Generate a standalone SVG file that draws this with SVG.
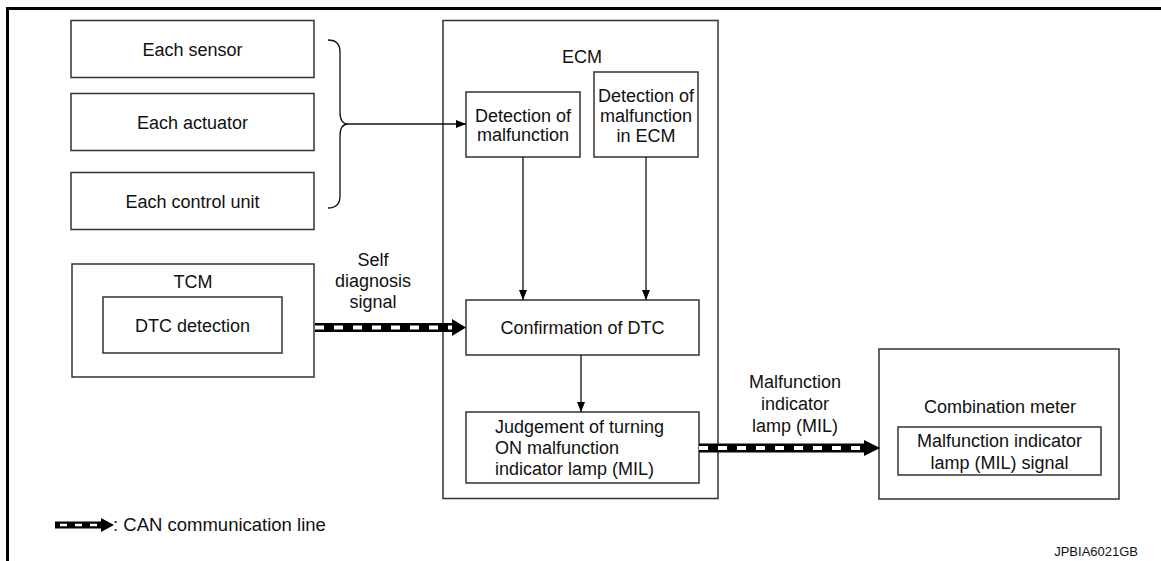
<svg xmlns="http://www.w3.org/2000/svg" width="1161" height="561" viewBox="0 0 1161 561">
<style>
text{font-family:"Liberation Sans",Arial,sans-serif;font-size:18px;fill:#111}
.c{text-anchor:middle}
.box{fill:#fff;stroke:#333;stroke-width:1.5}
.ln{stroke:#111;stroke-width:1.3;fill:none}
.canb{stroke:#000;stroke-width:9}
.canw{stroke:#fff;stroke-width:4;stroke-dasharray:9 10}
</style>
<defs>
<marker id="ah" viewBox="0 0 10 8" refX="10" refY="4" markerWidth="10" markerHeight="8" markerUnits="userSpaceOnUse" orient="auto">
<path d="M0,0 L10,4 L0,8 Z" fill="#000"/>
</marker>
</defs>
<rect width="1161" height="561" fill="#fff"/>
<g id="frame">
<line x1="6" y1="8.5" x2="1161" y2="8.5" stroke="#000" stroke-width="3"/>
<line x1="7.5" y1="7" x2="7.5" y2="561" stroke="#000" stroke-width="3"/>
</g>
<g id="sensor"><rect class="box" x="71" y="20.5" width="243" height="57"/><text class="c" x="192.5" y="56">Each sensor</text></g>
<g id="actuator"><rect class="box" x="71" y="93.5" width="243" height="57"/><text class="c" x="192.5" y="128.5">Each actuator</text></g>
<g id="control"><rect class="box" x="71" y="172.5" width="243" height="57"/><text class="c" x="192.5" y="208">Each control unit</text></g>
<g id="ecm"><rect class="box" x="443" y="20.5" width="275" height="478"/><text class="c" x="582" y="63">ECM</text></g>
<g id="detect"><rect class="box" x="466" y="92" width="114" height="65"/><text class="c" x="523" y="121.5">Detection of</text><text class="c" x="523" y="141">malfunction</text></g>
<g id="detect-ecm"><rect class="box" x="594" y="72" width="104" height="85"/><text class="c" x="646" y="101.5">Detection of</text><text class="c" x="646" y="121.5">malfunction</text><text class="c" x="646" y="141.5">in ECM</text></g>
<g id="confirm"><rect class="box" x="466" y="300" width="233" height="55"/><text class="c" x="582.5" y="334">Confirmation of DTC</text></g>
<g id="judge"><rect class="box" x="466" y="412" width="233" height="71"/><text x="495" y="432.5">Judgement of turning</text><text x="495" y="454">ON malfunction</text><text x="495" y="475">indicator lamp (MIL)</text></g>
<g id="tcm"><rect class="box" x="72" y="264" width="242" height="113"/><text class="c" x="193" y="288">TCM</text></g>
<g id="dtc"><rect class="box" x="103" y="297" width="179" height="56"/><text class="c" x="192.5" y="332">DTC detection</text></g>
<g id="meter"><rect class="box" x="879" y="349" width="240" height="150"/><text class="c" x="1000" y="413">Combination meter</text></g>
<g id="mil-signal"><rect class="box" x="898" y="427" width="203" height="48"/><text class="c" x="999.5" y="447">Malfunction indicator</text><text class="c" x="999.5" y="469">lamp (MIL) signal</text></g>
<g id="connectors">
<path class="ln" d="M328,40 Q340,40 340,52 L340,112 Q340,124 348,124 Q340,124 340,136 L340,196 Q340,208 328,208"/>
<line class="ln" x1="348" y1="124" x2="466" y2="124" marker-end="url(#ah)"/>
<line class="ln" x1="523" y1="157" x2="523" y2="300" marker-end="url(#ah)"/>
<line class="ln" x1="646" y1="157" x2="646" y2="300" marker-end="url(#ah)"/>
<line class="ln" x1="581" y1="355" x2="581" y2="412" marker-end="url(#ah)"/>
<g id="can-tcm">
<line class="canb" x1="315" y1="327.5" x2="453" y2="327.5"/>
<line class="canw" x1="315" y1="327.5" x2="453" y2="327.5"/>
<polygon points="452,319 466,327.5 452,336" fill="#000"/>
</g>
<g id="can-mil">
<line class="canb" x1="699" y1="448" x2="865" y2="448"/>
<line class="canw" x1="699" y1="448" x2="865" y2="448"/>
<polygon points="864,440 880,448 864,456" fill="#000"/>
</g>
<text class="c" x="373" y="266">Self</text>
<text class="c" x="373" y="287">diagnosis</text>
<text class="c" x="373" y="308">signal</text>
<text class="c" x="795" y="388">Malfunction</text>
<text class="c" x="795" y="410">indicator</text>
<text class="c" x="795" y="432">lamp (MIL)</text>
</g>
<g id="legend">
<line stroke="#000" stroke-width="7" x1="55" y1="525" x2="102" y2="525"/>
<line stroke="#fff" stroke-width="2.5" stroke-dasharray="7 8" x1="60" y1="525" x2="102" y2="525"/>
<polygon points="101,518 114,525 101,532" fill="#000"/>
<text x="113" y="531" style="font-size:18.5px">: CAN communication line</text>
</g>
<text x="1138" y="556" text-anchor="end" style="font-size:13px">JPBIA6021GB</text>
</svg>
